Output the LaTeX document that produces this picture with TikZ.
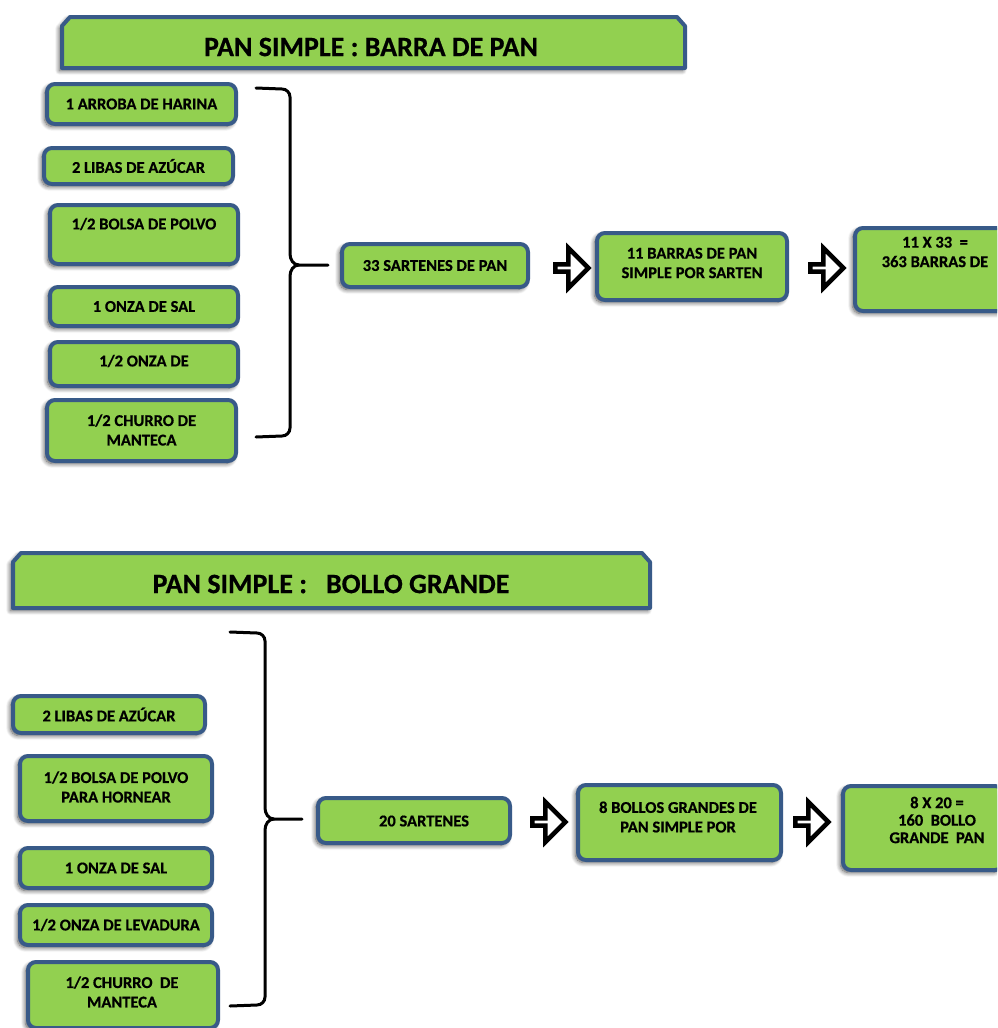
\documentclass[tikz,border=0pt]{standalone}
\usepackage{fontspec}
\setmainfont{Carlito}[BoldFeatures={FakeBold=0.6}]
\usetikzlibrary{shapes.arrows,shadows.blur}
\definecolor{leaf}{HTML}{92D050}
\definecolor{edge}{HTML}{385A88}
\tikzset{
  x=1pt, y=-1pt,
  soft/.style={blur shadow={shadow xshift=-2.5pt, shadow yshift=-2.5pt,
    shadow opacity=70, shadow blur steps=8, shadow blur radius=4.5pt}},
  box/.style={draw=edge, line width=4pt, fill=leaf, rounded corners=8pt,
    inner sep=0pt, soft},
  titlebox/.style={draw=edge, line width=4pt, fill=leaf, line join=round, soft},
  txt/.style={font=\fontsize{16.5}{19.5}\selectfont\bfseries, align=center, inner sep=0pt},
  head/.style={font=\fontsize{28}{32}\selectfont\bfseries, inner sep=0pt},
  flow/.style={single arrow, draw=black, fill=white, line width=4.5pt,
    minimum height=33pt, minimum width=40pt, single arrow head extend=10pt,
    single arrow head indent=0pt, inner sep=0pt},
  brace/.style={line width=3pt, line cap=round}
}
\begin{document}
\begin{tikzpicture}
\useasboundingbox (0,0) rectangle (997,1028);
\clip (0,0) rectangle (997,1028);

% ---------- Barra de pan ----------
\path[titlebox] (62,68) -- (62,26) -- (70,17) -- (677,17) -- (685,26) -- (685,68) -- cycle;
\node[head] (t1) at (371,47) {PAN SIMPLE : BARRA DE PAN};

\node[box, minimum width=189pt, minimum height=40pt] (a1) at (141.5,104) {};
\node[txt] (a1l) at (a1) {1 ARROBA DE HARINA};
\node[box, minimum width=189pt, minimum height=36pt] (a2) at (138.5,166) {};
\node[txt] (a2l) at (a2) {2 LIBAS DE AZÚCAR};
\node[box, minimum width=188pt, minimum height=59pt] (a3) at (144,234.5) {};
\node[txt] (a3l) at (144,224) {1/2 BOLSA DE POLVO};
\node[box, minimum width=188pt, minimum height=39pt] (a4) at (144,306.5) {};
\node[txt] (a4l) at (a4) {1 ONZA DE SAL};
\node[box, minimum width=188pt, minimum height=44pt] (a5) at (144,364) {};
\node[txt] (a5l) at (144,361) {1/2 ONZA DE};
\node[box, minimum width=189pt, minimum height=61pt] (a6) at (141.5,430.5) {};
\node[txt] (a6l) at (141.5,430) {1/2 CHURRO DE\\MANTECA};

\draw[brace] (256,88) -- (282,89) to[out=0,in=90] (290,97) -- (290,254)
  to[out=-90,in=180] (299,265) -- (328,265);
\draw[brace] (299,265) to[out=180,in=90] (290,276) -- (290,428)
  to[out=-90,in=0] (282,436) -- (256,437);

\node[box, minimum width=186pt, minimum height=43pt] (b1) at (435,265.5) {};
\node[txt] (b1l) at (b1) {33 SARTENES DE PAN};
\node[flow] (f1) at (570,268) {};
\node[box, minimum width=190pt, minimum height=67pt] (b2) at (692,266.5) {};
\node[txt] (b2l) at (692,263) {11 BARRAS DE PAN\\SIMPLE POR SARTEN};
\node[flow] (f2) at (825,268) {};
\node[box, minimum width=160pt, minimum height=83pt] (b3) at (935,269.5) {};
\node[txt] (b3l) at (935,252) {11 X 33 \ =\\363 BARRAS DE};

% ---------- Bollo grande ----------
\path[titlebox] (13,608) -- (13,562) -- (21,553) -- (642,553) -- (650,562) -- (650,608) -- cycle;
\node[head] (t2) at (331,584) {PAN SIMPLE : \ \ BOLLO GRANDE};

\node[box, minimum width=192pt, minimum height=37pt] (c1) at (109,714.5) {};
\node[txt] (c1l) at (c1) {2 LIBAS DE AZÚCAR};
\node[box, minimum width=192pt, minimum height=65pt] (c2) at (116,788.5) {};
\node[txt] (c2l) at (116,787) {1/2 BOLSA DE POLVO\\PARA HORNEAR};
\node[box, minimum width=192pt, minimum height=40pt] (c3) at (116,868) {};
\node[txt] (c3l) at (c3) {1 ONZA DE SAL};
\node[box, minimum width=192pt, minimum height=40pt] (c4) at (116,925) {};
\node[txt] (c4l) at (c4) {1/2 ONZA DE LEVADURA};
\node[box, minimum width=190pt, minimum height=66pt] (c5) at (123,995) {};
\node[txt] (c5l) at (122,992) {1/2 CHURRO \ DE\\MANTECA};

\draw[brace] (230,632) -- (257,633) to[out=0,in=90] (265,641) -- (265,808)
  to[out=-90,in=180] (274,819) -- (302,819);
\draw[brace] (274,819) to[out=180,in=90] (265,830) -- (265,997)
  to[out=-90,in=0] (257,1005) -- (230,1006);

\node[box, minimum width=192pt, minimum height=45pt] (d1) at (414,820.5) {};
\node[txt] (d1l) at (424,821) {20 SARTENES};
\node[flow] (f3) at (547,822) {};
\node[box, minimum width=203pt, minimum height=75pt] (d2) at (679.5,822.5) {};
\node[txt] (d2l) at (678,817) {8 BOLLOS GRANDES DE\\PAN SIMPLE POR};
\node[flow] (f4) at (810,822) {};
\node[box, minimum width=160pt, minimum height=84pt] (d3) at (923,828) {};
\node[txt, font=\fontsize{16.5}{17.5}\selectfont\bfseries] (d3l) at (937,820) {8 X 20 =\\160 \ BOLLO\\GRANDE \ PAN};
\end{tikzpicture}
\end{document}
